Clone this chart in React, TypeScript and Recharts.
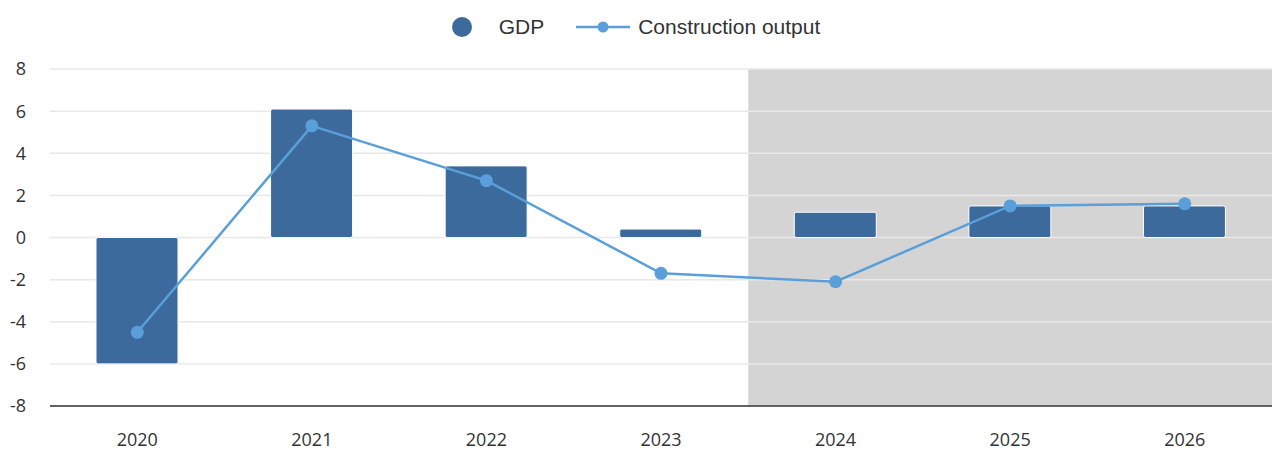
import React from 'react'
import {
  ComposedChart,
  Bar,
  Line,
  XAxis,
  YAxis,
  CartesianGrid,
  ReferenceArea,
} from 'recharts'

const categories = ['2020', '2021', '2022', '2023', '2024', '2025', '2026']
const gdp = [-6.0, 6.1, 3.4, 0.4, 1.2, 1.5, 1.5]
const construction = [-4.5, 5.3, 2.7, -1.7, -2.1, 1.5, 1.6]
const yTicks = [-8, -6, -4, -2, 0, 2, 4, 6, 8]
const forecastFrom = '2024'
const forecastTo = '2026'
const seriesNames = ['GDP', 'Construction output']

const BAR = '#3d6a9c'
const LINE = '#5a9fd9'

const data = categories.map((year, i) => ({
  year,
  gdp: gdp[i],
  construction: construction[i],
}))

function LegendRow() {
  return (
    <div
      style={{
        position: 'absolute',
        top: 15,
        left: 0,
        width: 1272,
        display: 'flex',
        justifyContent: 'center',
        alignItems: 'center',
        fontFamily: '"Liberation Sans", Arial, sans-serif',
        fontSize: 21,
        color: '#333',
        zIndex: 2,
      }}
    >
      <svg width={20} height={20} style={{ marginRight: 27 }}>
        <circle cx={10} cy={10} r={10} fill={BAR} />
      </svg>
      <span style={{ marginRight: 32 }}>{seriesNames[0]}</span>
      <svg width={54} height={14} style={{ marginRight: 8 }}>
        <line x1={0} y1={7} x2={54} y2={7} stroke={LINE} strokeWidth={2.5} />
        <circle cx={27} cy={7} r={5.5} fill={LINE} />
      </svg>
      <span>{seriesNames[1]}</span>
    </div>
  )
}

export default function App() {
  return (
    <div
      style={{
        position: 'fixed',
        top: 0,
        left: 0,
        width: 1272,
        height: 450,
        overflow: 'hidden',
        background: '#fff',
      }}
    >
      <LegendRow />
      <ComposedChart
        width={1272}
        height={450}
        data={data}
        margin={{ top: 69, right: 0, left: 0, bottom: 14 }}
      >
        <ReferenceArea
          x1={forecastFrom}
          x2={forecastTo}
          fill="#d4d4d4"
          fillOpacity={1}
          stroke="none"
          ifOverflow="visible"
          zIndex={-150}
        />
        <CartesianGrid vertical={false} stroke="#e8e8e8" strokeWidth={1.5} />
        <XAxis
          dataKey="year"
          tickLine={false}
          tickSize={0}
          tickMargin={27}
          height={30}
          axisLine={{ stroke: '#333', strokeWidth: 1.5 }}
          tick={{ fill: '#333', fontSize: 18, fontFamily: '"Open Sans", sans-serif' }}
        />
        <YAxis
          domain={[-8, 8]}
          ticks={yTicks}
          width={50}
          axisLine={false}
          tickLine={false}
          tickSize={0}
          tickMargin={24}
          tick={{ fill: '#333', fontSize: 18, fontFamily: '"Open Sans", sans-serif' }}
        />
        <Bar
          dataKey="gdp"
          name={seriesNames[0]}
          fill={BAR}
          stroke="#fff"
          strokeWidth={1}
          barSize={82}
          radius={2}
          isAnimationActive={false}
        />
        <Line
          dataKey="construction"
          name={seriesNames[1]}
          stroke={LINE}
          strokeWidth={2.5}
          dot={{ r: 6.5, fill: LINE, stroke: 'none' }}
          activeDot={false}
          isAnimationActive={false}
        />
      </ComposedChart>
    </div>
  )
}
